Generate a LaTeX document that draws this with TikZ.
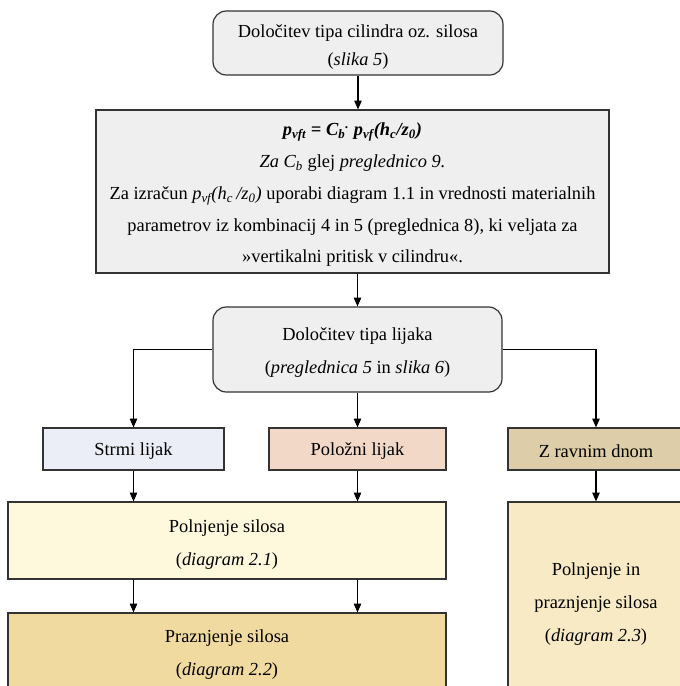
\documentclass[tikz,border=0pt]{standalone}
\usepackage{fontspec}
\setmainfont{Liberation Serif}
\usetikzlibrary{arrows.meta}
\definecolor{gbox}{HTML}{EFEFEF}
\definecolor{cstrmi}{HTML}{EBEEF6}
\definecolor{cpoloz}{HTML}{F2D8C6}
\definecolor{cravn}{HTML}{DDCDA8}
\definecolor{cpoln}{HTML}{FEF9DC}
\definecolor{cprazn}{HTML}{F1DA9F}
\definecolor{cright}{HTML}{F7EAC4}
\definecolor{bord}{HTML}{333333}
\tikzset{
  box/.style={draw=bord, line width=0.9pt, inner sep=0pt},
  rbox/.style={box, rounded corners=10pt},
  txt/.style={align=center, inner sep=0pt, font=\fontsize{13.8}{24.75}\selectfont},
  conn/.style={draw=black, line width=0.8pt, -{Triangle[length=6.5pt,width=5.5pt]}}
}
\begin{document}
\begin{tikzpicture}[x=0.75pt,y=-0.75pt]
\useasboundingbox (0,0) rectangle (680,686);
\clip (0,0) rectangle (680,686);
% boxes
\node[rbox, fill=gbox, minimum width=217.5pt, minimum height=48pt] (top) at (358,43) {};
\node[box, fill=gbox, minimum width=384.75pt, minimum height=122.25pt] (big) at (352.5,191.5) {};
\node[rbox, fill=gbox, minimum width=216.75pt, minimum height=63.75pt] (mid) at (357.5,349.5) {};
\node[box, fill=cstrmi, minimum width=135.75pt, minimum height=31.5pt] (strmi) at (133.5,449) {};
\node[box, fill=cpoloz, minimum width=132.75pt, minimum height=31.5pt] (poloz) at (357.5,449) {};
\node[box, fill=cravn, minimum width=132pt, minimum height=31.5pt] (ravn) at (596,449) {};
\node[box, fill=cpoln, minimum width=328.5pt, minimum height=57.75pt] (poln) at (227,540.5) {};
\node[box, fill=cprazn, minimum width=328.5pt, minimum height=60pt] (prazn) at (227,653) {};
\node[box, fill=cright, minimum width=132pt, minimum height=150pt] (right) at (596,602) {};
% texts
\node[txt, font=\fontsize{13.8}{21}\selectfont] (topt) at (358,47)
  {Določitev tipa cilindra oz. silosa\\(\textit{slika 5})};
\node[txt, font=\fontsize{13.8}{23.8}\selectfont] (bigt) at (352.5,195)
  {\textbf{\textit{p\textsubscript{vft} = C\textsubscript{b}\textsuperscript{.} p\textsubscript{vf}(h\textsubscript{c}/z\textsubscript{0})}}\\
   \textit{Za C\textsubscript{b}} glej \textit{preglednico 9.}\\
   Za izračun \textit{p\textsubscript{vf}(h\textsubscript{c}\,/z\textsubscript{0})} uporabi diagram 1.1 in vrednosti materialnih\\
   parametrov iz kombinacij 4 in 5 (preglednica 8), ki veljata za\\
   »vertikalni pritisk v cilindru«.};
\node[txt] (midt) at (357.5,353) {Določitev tipa lijaka\\(\textit{preglednica 5} in \textit{slika 6})};
\node[txt] (strmit) at (133.5,451) {Strmi lijak};
\node[txt] (polozt) at (357.5,451) {Položni lijak};
\node[txt] (ravnt) at (596,451) {Z ravnim dnom};
\node[txt] (polnt) at (227,545) {Polnjenje silosa\\(\textit{diagram 2.1})};
\node[txt] (praznt) at (227,655) {Praznjenje silosa\\(\textit{diagram 2.2})};
\node[txt] (rightt) at (596,604.5) {Polnjenje in\\praznjenje silosa\\(\textit{diagram 2.3})};
% connectors
\draw[conn] (top.south) -- (top.south |- big.north);
\draw[conn] (mid.north |- big.south) -- (mid.north);
\draw[conn] (mid.west) -| (strmi.north);
\draw[conn] (mid.east) -| (ravn.north);
\draw[conn] (mid.south) -- (poloz.north);
\draw[conn] (strmi.south) -- (strmi.south |- poln.north);
\draw[conn] (poloz.south) -- (poloz.south |- poln.north);
\draw[conn] (strmi.south |- poln.south) -- (strmi.south |- prazn.north);
\draw[conn] (poloz.south |- poln.south) -- (poloz.south |- prazn.north);
\draw[conn] (ravn.south) -- (right.north);
\end{tikzpicture}
\end{document}
